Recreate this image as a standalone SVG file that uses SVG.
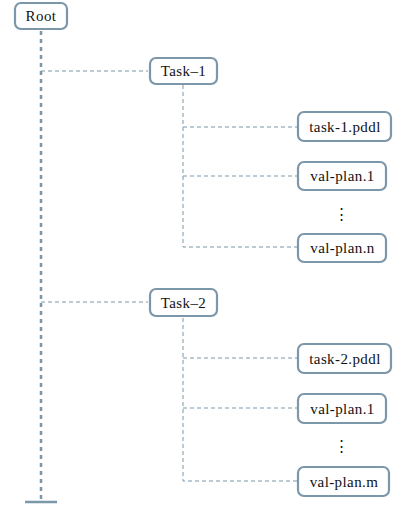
<svg xmlns="http://www.w3.org/2000/svg" width="393" height="508" viewBox="0 0 393 508">
<style>
.box{fill:#fff;stroke:#7b97a9;stroke-width:2.2}
.t{font-family:"Liberation Serif","DejaVu Serif",serif;font-size:15px;letter-spacing:0.4px;fill:#111;text-anchor:middle;dominant-baseline:central}
.thin{stroke:#7b97a9;stroke-width:1;stroke-dasharray:4,3;fill:none}
.thick{stroke:#7b97a9;stroke-width:2.5;stroke-dasharray:4,4;fill:none}
</style>
<rect width="393" height="508" fill="#fff"/>
<g id="connectors">
<path class="thick" d="M41,31 V500"/>
<path d="M25,502 H57" stroke="#7b97a9" stroke-width="2.5"/>
<path class="thin" d="M41,71 H148"/>
<path class="thin" d="M41,302 H148"/>
<path class="thin" d="M183,85 V247 H297"/>
<path class="thin" d="M183,127 H297"/>
<path class="thin" d="M183,176 H297"/>
<path class="thin" d="M183,318 V481 H297"/>
<path class="thin" d="M183,358 H297"/>
<path class="thin" d="M183,408 H297"/>
</g>
<g id="root"><rect class="box" x="15" y="3" width="52" height="26" rx="6"/><text class="t" x="41" y="16">Root</text></g>
<g id="task1"><rect class="box" x="150" y="58" width="67" height="26" rx="6"/><text class="t" x="183.5" y="71">Task–1</text></g>
<g id="task1pddl"><rect class="box" x="298" y="112" width="93" height="29" rx="6"/><text class="t" x="345" y="126.5">task-1.pddl</text></g>
<g id="valplan1a"><rect class="box" x="298" y="162" width="88" height="28" rx="6"/><text class="t" x="342.5" y="176">val-plan.1</text></g>
<g id="dots1"><text class="t" x="342" y="214">⋮</text></g>
<g id="valplann"><rect class="box" x="298" y="234" width="88" height="28" rx="6"/><text class="t" x="342.5" y="248">val-plan.n</text></g>
<g id="task2"><rect class="box" x="150" y="289" width="67" height="27" rx="6"/><text class="t" x="183.5" y="302.5">Task–2</text></g>
<g id="task2pddl"><rect class="box" x="298" y="344" width="93" height="29" rx="6"/><text class="t" x="345" y="358.5">task-2.pddl</text></g>
<g id="valplan1b"><rect class="box" x="298" y="394" width="88" height="29" rx="6"/><text class="t" x="342.5" y="408.5">val-plan.1</text></g>
<g id="dots2"><text class="t" x="342" y="446">⋮</text></g>
<g id="valplanm"><rect class="box" x="298" y="467" width="91" height="29" rx="6"/><text class="t" x="344" y="481.5">val-plan.m</text></g>
</svg>
